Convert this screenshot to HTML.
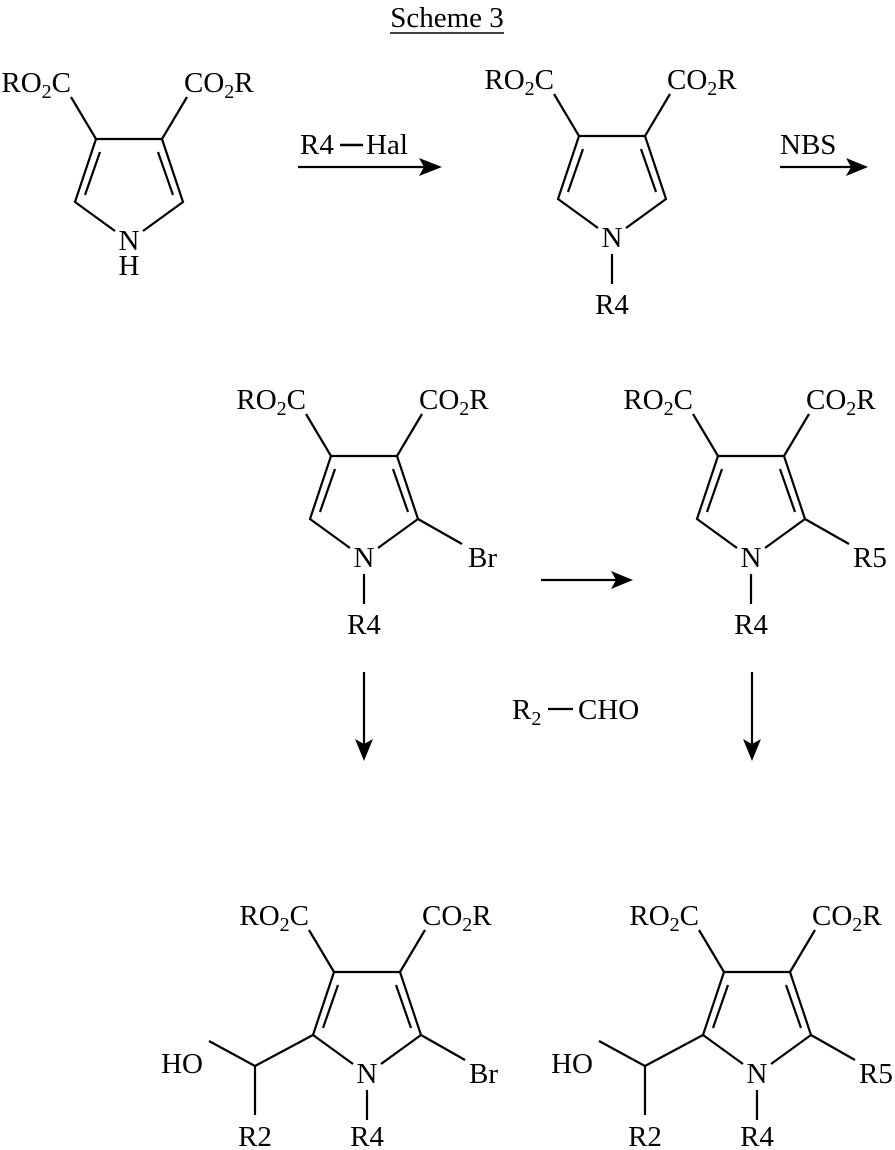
<!DOCTYPE html>
<html><head><meta charset="utf-8"><style>
html,body{margin:0;padding:0;background:#fff}
svg{display:block}
text{font-family:"Liberation Serif",serif;font-size:29px;fill:#000}
</style></head><body>
<svg width="895" height="1150" viewBox="0 0 895 1150" xmlns="http://www.w3.org/2000/svg" font-family="Liberation Serif, serif" font-size="29">
<defs>
<g id="ring" stroke="#000" stroke-width="2.2" fill="none">
<polyline points="-14,-9 -54,-38 -33,-101 33,-101 54,-38 14,-9"/>
<line x1="-44" y1="-45" x2="-29" y2="-88"/>
<line x1="44" y1="-45" x2="29" y2="-88"/>
<line x1="-33" y1="-101" x2="-58" y2="-143"/>
<line x1="33" y1="-101" x2="58" y2="-143"/>
</g>
<g id="lbl" font-size="29">
<text x="-58" y="-148" text-anchor="end" font-size="29">RO<tspan font-size="20" dy="6">2</tspan><tspan dy="-6">C</tspan></text>
<text x="55" y="-148" font-size="29">CO<tspan font-size="20" dy="6">2</tspan><tspan dy="-6">R</tspan></text>
<text x="0" y="10" text-anchor="middle" font-size="29">N</text>
</g>
<g id="r4">
<line x1="0" y1="17" x2="0" y2="47" stroke="#000" stroke-width="2.2"/>
<text x="0" y="77" text-anchor="middle" font-size="29">R4</text>
</g>
<g id="r4b">
<line x1="0" y1="17" x2="0" y2="47" stroke="#000" stroke-width="2.2"/>
<text x="0" y="73" text-anchor="middle" font-size="29">R4</text>
</g>
<g id="c5" stroke="#000" stroke-width="2.2"><line x1="54" y1="-38" x2="98" y2="-13"/></g>
<g id="c2">
<polyline points="-54,-38 -112,-7 -158,-32" stroke="#000" stroke-width="2.2" fill="none"/>
<line x1="-112" y1="-7" x2="-112" y2="42" stroke="#000" stroke-width="2.2"/>
<text x="-164" y="0" text-anchor="end" font-size="29">HO</text>
<text x="-112" y="73" text-anchor="middle" font-size="29">R2</text>
</g>
</defs>

<text x="447" y="27" text-anchor="middle" font-size="29">Scheme 3</text>
<line x1="390" y1="33" x2="504" y2="33" stroke="#000" stroke-width="1.5"/>

<g transform="translate(129,240)"><use href="#ring"/><use href="#lbl"/><text x="0" y="35" text-anchor="middle" font-size="29">H</text></g>
<line x1="298" y1="167" x2="425" y2="167" stroke="#000" stroke-width="2.2"/>
<polygon points="442,167 419,158 424,167 419,176" fill="#000"/>
<text x="300" y="154" font-size="29">R4</text>
<line x1="340" y1="145" x2="363" y2="145" stroke="#000" stroke-width="2.5"/>
<text x="366" y="154" font-size="29">Hal</text>
<g transform="translate(612,237)"><use href="#ring"/><use href="#lbl"/><use href="#r4"/></g>
<line x1="780" y1="167" x2="852" y2="167" stroke="#000" stroke-width="2.2"/>
<polygon points="868,167 846,158 851,167 846,176" fill="#000"/>
<text x="780" y="154" font-size="29">NBS</text>

<g transform="translate(364,557)"><use href="#ring"/><use href="#lbl"/><use href="#r4"/><use href="#c5"/><text x="104" y="10" font-size="29">Br</text></g>
<line x1="541" y1="580" x2="617" y2="580" stroke="#000" stroke-width="2.2"/>
<polygon points="633,580 611,571 616,580 611,589" fill="#000"/>
<g transform="translate(751,557)"><use href="#ring"/><use href="#lbl"/><use href="#r4"/><use href="#c5"/><text x="102" y="10" font-size="29">R5</text></g>

<line x1="364" y1="672" x2="364" y2="745" stroke="#000" stroke-width="2.2"/>
<polygon points="364,761 355,739 364,744 373,739" fill="#000"/>
<line x1="752" y1="672" x2="752" y2="745" stroke="#000" stroke-width="2.2"/>
<polygon points="752,761 743,739 752,744 761,739" fill="#000"/>
<text x="512" y="719" font-size="29">R<tspan font-size="20" dy="6">2</tspan></text>
<line x1="548" y1="709" x2="573" y2="709" stroke="#000" stroke-width="2.2"/>
<text x="578" y="719" font-size="29">CHO</text>

<g transform="translate(367,1073)"><use href="#ring"/><use href="#lbl"/><use href="#r4b"/><use href="#c5"/><use href="#c2"/><text x="102" y="10" font-size="29">Br</text></g>
<g transform="translate(757,1073)"><use href="#ring"/><use href="#lbl"/><use href="#r4b"/><use href="#c5"/><use href="#c2"/><text x="102" y="10" font-size="29">R5</text></g>
</svg>
</body></html>
